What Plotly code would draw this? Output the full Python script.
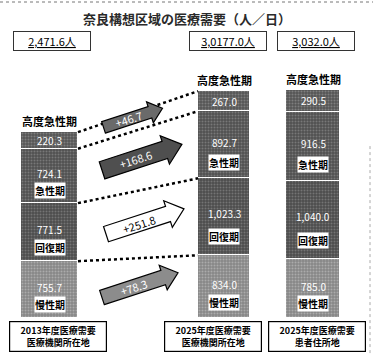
import math
import plotly.graph_objects as go

# ---- data (人/日) ----
CATEGORIES = [
    "2013年度医療需要<br>医療機関所在地",
    "2025年度医療需要<br>医療機関所在地",
    "2025年度医療需要<br>患者住所地",
]
TOTAL_LABELS = ["2,471.6人", "3,0177.0人", "3,032.0人"]
FUNCTIONS = ["慢性期", "回復期", "急性期", "高度急性期"]  # stacked bottom -> top
CHRONIC = [755.7, 834.0, 785.0]
RECOVERY = [771.5, 1023.3, 1040.0]
ACUTE = [724.1, 892.7, 916.5]
HIGH_ACUTE = [220.3, 267.0, 290.5]
TITLE = "奈良構想区域の医療需要（人／日）"

SERIES = [CHRONIC, RECOVERY, ACUTE, HIGH_ACUTE]

# ---- layout geometry ----
W, H = 373, 364
BASE_PX = 318          # pixel row of the zero line
K = 0.0752             # pixels per 人/日
Y_MAX = BASE_PX / K
Y_MIN = -(H - BASE_PX) / K
BAR_X = [49.5, 224, 313]
BAR_W = [57, 52, 54]
FONT = "Noto Sans CJK JP"

STYLES = {
    "慢性期": dict(bg="#868686", fg="#cfcfcf"),
    "回復期": dict(bg="#4c4c4c", fg="#9c9c9c"),
    "急性期": dict(bg="#505050", fg="#a0a0a0"),
    "高度急性期": dict(bg="#555555", fg="#a8a8a8"),
}


def val_to_px(v):
    return BASE_PX - v * K


def px_to_val(p):
    return (BASE_PX - p) / K


fig = go.Figure()

for name, vals in zip(FUNCTIONS, SERIES):
    st = STYLES[name]
    fig.add_trace(go.Bar(
        x=BAR_X, y=vals, width=BAR_W, name=name,
        marker=dict(
            color=st["bg"],
            line=dict(color="white", width=1.2),
            pattern=dict(shape=".", fgcolor=st["fg"], bgcolor=st["bg"],
                         size=3, solidity=0.35),
        ),
        hoverinfo="skip", showlegend=False,
    ))

# cumulative boundaries per bar
cums = []
for i in range(3):
    c, acc = [], 0.0
    for s in SERIES:
        c.append((acc, acc + s[i]))
        acc += s[i]
    cums.append(c)

# dotted connectors between the 2013 and 2025 (所在地) bars
x_left = BAR_X[0] + BAR_W[0] / 2
x_right = BAR_X[1] - BAR_W[1] / 2
levels0 = [cums[0][k][0] for k in range(1, 4)] + [cums[0][3][1]]
levels1 = [cums[1][k][0] for k in range(1, 4)] + [cums[1][3][1]]
for a, b in zip(levels0, levels1):
    fig.add_trace(go.Scatter(
        x=[x_left, x_right], y=[a, b],
        mode="lines", line=dict(color="black", width=2.5, dash="dot"),
        hoverinfo="skip", showlegend=False,
    ))

ann = []
shapes = []

# labels inside the bars
for i in range(3):
    for j, name in enumerate(FUNCTIONS):
        lo, hi = cums[i][j]
        h = hi - lo
        vtxt = f"{SERIES[j][i]:,.1f}"
        if name == "高度急性期":
            ann.append(dict(x=BAR_X[i], y=lo + h / 2, text=vtxt, showarrow=False,
                            font=dict(family=FONT, size=10, color="white")))
            ann.append(dict(x=BAR_X[i], y=hi, yanchor="bottom", yshift=1,
                            text="<b>高度急性期</b>", showarrow=False,
                            font=dict(family=FONT, size=11, color="black")))
        else:
            ann.append(dict(x=BAR_X[i], y=lo + h * 0.54, text=vtxt, showarrow=False,
                            font=dict(family=FONT, size=10, color="white")))
            ann.append(dict(x=BAR_X[i], y=lo + h * 0.24, text=f"<b>{name}</b>",
                            showarrow=False, bgcolor="white", borderpad=0,
                            font=dict(family=FONT, size=10, color="black")))

# change arrows (2013 -> 2025 所在地)
ARROW_FILL = ["#8c8c8c", "#ffffff", "#4f4f4f", "#6a6a6a"]
ARROW_TEXT = ["white", "black", "white", "white"]
ARROW_LEN = [80, 82, 84, 62]
ARROW_BODY = [15, 16, 18, 12]
ARROW_HEAD = [26, 28, 30, 22]
ARROW_CX = [140, 145, 142, 133]
ANGLE = math.radians(18)
ux, uy = math.cos(ANGLE), -math.sin(ANGLE)
nx, ny = -uy, ux
for j in range(4):
    m1 = val_to_px(sum(cums[0][j]) / 2)
    m2 = val_to_px(sum(cums[1][j]) / 2)
    cx, cy = ARROW_CX[j], (m1 + m2) / 2 - 3
    L, bw, hw = ARROW_LEN[j], ARROW_BODY[j], ARROW_HEAD[j]
    hl = hw * 0.6
    pts = []
    for a, b in [(-L / 2, bw / 2), (L / 2 - hl, bw / 2), (L / 2 - hl, hw / 2),
                 (L / 2, 0), (L / 2 - hl, -hw / 2), (L / 2 - hl, -bw / 2),
                 (-L / 2, -bw / 2)]:
        px = cx + a * ux + b * nx
        py = cy + a * uy + b * ny
        pts.append((px, px_to_val(py)))
    path = "M " + " L ".join(f"{x:.2f},{y:.2f}" for x, y in pts) + " Z"
    shapes.append(dict(type="path", path=path, xref="x", yref="y",
                       fillcolor=ARROW_FILL[j], line=dict(color="black", width=1.2)))
    delta = SERIES[j][1] - SERIES[j][0]
    tx = cx - 0.08 * L * ux
    ty = cy - 0.08 * L * uy
    ann.append(dict(x=tx, y=px_to_val(ty), text=f"+{delta:,.1f}", showarrow=False,
                    textangle=-18,
                    font=dict(family=FONT, size=11, color=ARROW_TEXT[j])))

# title
ann.append(dict(x=W / 2, y=1 - 18 / H, xref="x", yref="paper", yanchor="middle",
                text=f"<b>{TITLE}</b>", showarrow=False,
                font=dict(family=FONT, size=13, color="#2a2a2a")))

# total boxes
TOTAL_X = [52, 228, 316]
for i in range(3):
    ann.append(dict(x=TOTAL_X[i], y=1 - 41 / H, xref="x", yref="paper",
                    yanchor="middle",
                    text=f"<u>{TOTAL_LABELS[i]}</u>", showarrow=False,
                    width=74, height=16, bgcolor="white",
                    bordercolor="#333", borderwidth=1, borderpad=1,
                    font=dict(family=FONT, size=11, color="black")))

# category boxes below the bars
CAT_X = [58, 213, 317]
for i in range(3):
    ann.append(dict(x=CAT_X[i], y=1 - 336 / H, xref="x", yref="paper",
                    yanchor="middle",
                    text=f"<b>{CATEGORIES[i]}</b>", showarrow=False,
                    width=96, height=29, bgcolor="white",
                    bordercolor="black", borderwidth=1.2, borderpad=0,
                    font=dict(family=FONT, size=9, color="black")))

# dotted page edges
shapes.append(dict(type="line", xref="paper", yref="paper", x0=0, x1=1,
                   y0=1 - 2 / H, y1=1 - 2 / H,
                   line=dict(color="#777", width=1, dash="dot")))
shapes.append(dict(type="line", xref="paper", yref="paper", x0=1 - 3 / W, x1=1 - 3 / W,
                   y0=0.03, y1=0.6, line=dict(color="#aaa", width=1, dash="dot")))

fig.update_layout(
    width=W, height=H,
    margin=dict(l=0, r=0, t=0, b=0),
    barmode="stack", bargap=0,
    paper_bgcolor="white", plot_bgcolor="white",
    xaxis=dict(range=[0, W], visible=False, fixedrange=True),
    yaxis=dict(range=[Y_MIN, Y_MAX], visible=False, fixedrange=True),
    annotations=ann, shapes=shapes,
    showlegend=False,
)

fig.write_html("out.html")
